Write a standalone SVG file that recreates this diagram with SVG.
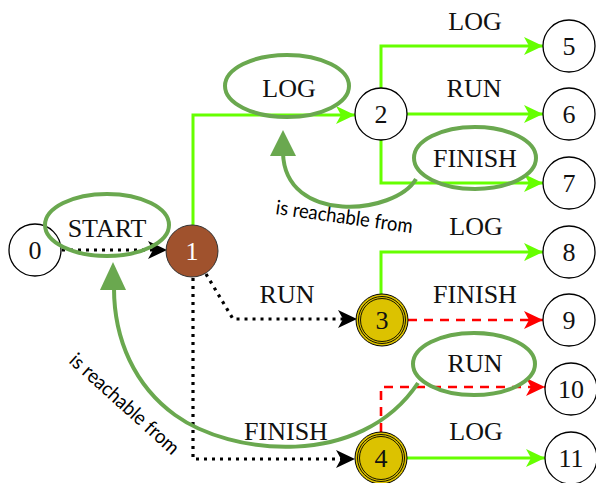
<svg xmlns="http://www.w3.org/2000/svg" width="596" height="483" viewBox="0 0 596 483">
<style>
.n{fill:#fff;stroke:#000;stroke-width:1.3}
.t{font-family:"Liberation Serif",serif;font-size:26px;fill:#111;text-anchor:middle}
.g{fill:none;stroke:#66ff00;stroke-width:3}
.r{fill:none;stroke:#ff0000;stroke-width:2.6;stroke-dasharray:9,7}
.k{fill:none;stroke:#000;stroke-width:3.2;stroke-dasharray:3,5}
.hl{fill:none;stroke:#6aa84f;stroke-width:4}
.gold{fill:#dcc200;stroke:#000;stroke-width:1}
.ring{fill:none;stroke:#000;stroke-width:0.9}
.note{font-family:Lato,"Open Sans",sans-serif;font-size:20px;fill:#000}
</style>
<defs>
<marker id="ag" markerUnits="userSpaceOnUse" markerWidth="20" markerHeight="18" refX="19" refY="9" orient="auto"><path d="M0,0 L19,9 L0,18 L5,9 z" fill="#66ff00"/></marker>
<marker id="ar" markerUnits="userSpaceOnUse" markerWidth="20" markerHeight="18" refX="19" refY="9" orient="auto"><path d="M0,0 L19,9 L0,18 L5,9 z" fill="#ff0000"/></marker>
<marker id="ak" markerUnits="userSpaceOnUse" markerWidth="20" markerHeight="18" refX="19" refY="9" orient="auto"><path d="M0,0 L19,9 L0,18 L5,9 z" fill="#000"/></marker>
</defs>
<rect width="596" height="483" fill="#fff"/>
<g id="connectors">
<path class="k" d="M62 250 L167 250" marker-end="url(#ak)"/>
<path class="g" d="M193 225 L193 115 L355 115" marker-end="url(#ag)"/>
<path class="g" d="M381 88 L381 46 L543 46" marker-end="url(#ag)"/>
<path class="g" d="M407 114 L543 114" marker-end="url(#ag)"/>
<path class="g" d="M381 140 L381 183 L543 183" marker-end="url(#ag)"/>
<path class="k" d="M206 274 L233 319 L357 319" marker-end="url(#ak)"/>
<path class="g" d="M381 294 L381 252 L543 252" marker-end="url(#ag)"/>
<path class="r" d="M408 320 L543 320" marker-end="url(#ar)"/>
<path class="k" d="M193 278 L193 459 L355 459" marker-end="url(#ak)"/>
<path class="r" d="M381 432 L381 387 L545 387" marker-end="url(#ar)"/>
<path class="g" d="M407 458 L545 458" marker-end="url(#ag)"/>
<text class="t" x="107" y="237">START</text>
<text class="t" x="289" y="97">LOG</text>
<text class="t" x="475" y="30">LOG</text>
<text class="t" x="474" y="97">RUN</text>
<text class="t" x="475" y="167">FINISH</text>
<text class="t" x="476" y="235">LOG</text>
<text class="t" x="287" y="303">RUN</text>
<text class="t" x="475" y="303">FINISH</text>
<text class="t" x="286" y="440">FINISH</text>
<text class="t" x="475" y="372">RUN</text>
<text class="t" x="476" y="440">LOG</text>
</g>
<g id="n0"><circle class="n" cx="35" cy="250" r="26"/><text class="t" x="35" y="259">0</text></g>
<g id="n1"><circle cx="192" cy="251" r="26" fill="#a0522d" stroke="#333" stroke-width="1"/><text class="t" x="192" y="260" style="fill:#fff">1</text></g>
<g id="n2"><circle class="n" cx="381" cy="114" r="26"/><text class="t" x="381" y="123">2</text></g>
<g id="n3"><circle class="gold" cx="382" cy="320" r="26"/><circle class="ring" cx="382" cy="320" r="23.5"/><circle class="ring" cx="382" cy="320" r="21.5"/><text class="t" x="382" y="329">3</text></g>
<g id="n4"><circle class="gold" cx="381" cy="458" r="26"/><circle class="ring" cx="381" cy="458" r="23.5"/><circle class="ring" cx="381" cy="458" r="21.5"/><text class="t" x="381" y="467">4</text></g>
<g id="n5"><circle class="n" cx="569" cy="46" r="26"/><text class="t" x="569" y="55">5</text></g>
<g id="n6"><circle class="n" cx="569" cy="114" r="26"/><text class="t" x="569" y="123">6</text></g>
<g id="n7"><circle class="n" cx="569" cy="183" r="26"/><text class="t" x="569" y="192">7</text></g>
<g id="n8"><circle class="n" cx="569" cy="252" r="26"/><text class="t" x="569" y="261">8</text></g>
<g id="n9"><circle class="n" cx="569" cy="320" r="26"/><text class="t" x="569" y="329">9</text></g>
<g id="n10"><circle class="n" cx="571" cy="389" r="26"/><text class="t" x="571" y="398">10</text></g>
<g id="n11"><circle class="n" cx="571" cy="458" r="26"/><text class="t" x="571" y="467">11</text></g>
<g id="annotations">
<ellipse class="hl" cx="107" cy="225" rx="62" ry="31"/>
<ellipse class="hl" cx="287" cy="86" rx="62" ry="31"/>
<ellipse class="hl" cx="475" cy="158" rx="61" ry="31"/>
<ellipse class="hl" cx="474" cy="364" rx="61" ry="31"/>
<path class="hl" d="M416 179 C395 215 285 225 283 153"/>
<polygon points="283,130 270,156 296,156" fill="#6aa84f"/>
<path class="hl" d="M418 383 C360 470 230 455 175 415 C135 386 114 340 114 288"/>
<polygon points="113,262 100,290 126,290" fill="#6aa84f"/>
<text class="note" transform="translate(275 214) rotate(8)" textLength="138" lengthAdjust="spacingAndGlyphs">is reachable from</text>
<text class="note" transform="translate(68 362) rotate(42)" textLength="140" lengthAdjust="spacingAndGlyphs">is reachable from</text>
</g>
</svg>
